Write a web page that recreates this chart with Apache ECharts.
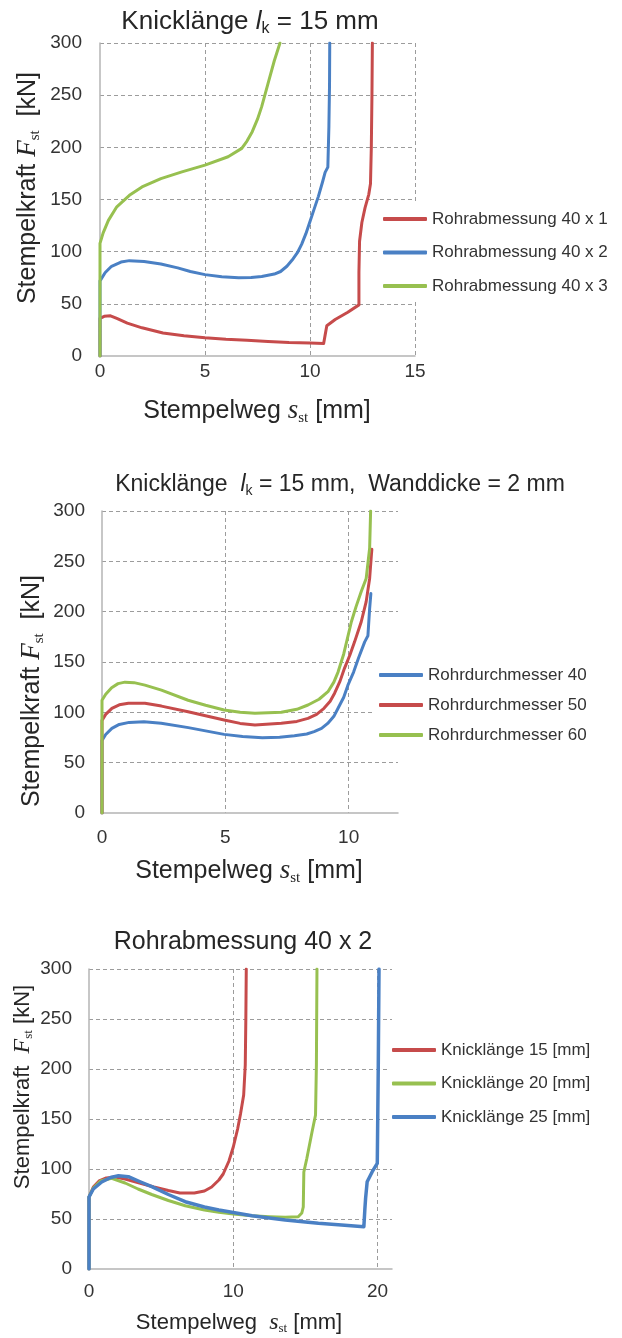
<!DOCTYPE html>
<html><head><meta charset="utf-8">
<script src="https://cdn.jsdelivr.net/npm/echarts@6/dist/echarts.min.js"></script>
<style>html,body{margin:0;padding:0;background:#fff}#c{width:622px;height:1338px}</style>
</head><body><div id="c"></div>
<script>
// ---------- data ----------
const yMin = 0, yMax = 300, yInterval = 50;
const xMax1 = 15, xMax2 = 12, xMax3 = 21;
const xInt1 = 5, xInt2 = 5, xInt3 = 10;

const names1 = ['Rohrabmessung 40 x 1', 'Rohrabmessung 40 x 2', 'Rohrabmessung 40 x 3'];
const names2 = ['Rohrdurchmesser 40', 'Rohrdurchmesser 50', 'Rohrdurchmesser 60'];
const names3 = ['Knicklänge 15 [mm]', 'Knicklänge 20 [mm]', 'Knicklänge 25 [mm]'];

// chart 1: Knicklänge 15 mm
const r40x1 = [[0,0],[0,36],[0.2,38],[0.5,38.5],[0.8,36],[1.3,31.5],[2,27],[3,22],[4,19.5],[5,17.5],[6,16],[7,15],[8,14],[9,13],[10,12.5],[10.65,12],[10.72,20],[10.8,29],[11.2,35],[11.8,42],[12.33,49],[12.33,80],[12.36,110],[12.47,128],[12.62,142],[12.8,155],[12.88,165],[12.92,200],[12.95,250],[12.97,300]];
const r40x2 = [[0,0],[0,72],[0.25,80],[0.55,86],[1,90],[1.4,91.4],[2.1,90.5],[2.9,88.2],[3.7,84.5],[4.3,81],[5,78],[5.8,76],[6.6,75],[7.2,75.3],[7.7,76.2],[8.3,78.5],[8.6,81],[8.9,86],[9.15,92],[9.4,99],[9.6,107],[9.8,117],[10,129],[10.2,141],[10.4,153],[10.6,167],[10.72,176],[10.85,181],[10.9,220],[10.93,260],[10.94,300]];
const r40x3 = [[0,0],[0,108],[0.15,118],[0.4,130],[0.8,143],[1.4,154],[2,162],[2.9,170],[3.9,176.5],[5,183],[6.1,191],[6.75,199],[7.0,206],[7.25,215],[7.5,227],[7.7,239],[8.0,261],[8.3,283],[8.57,300]];

// chart 2: Wanddicke 2 mm
const d40 = [[0,0],[0,72],[0.15,78],[0.4,84],[0.7,88],[1.1,90],[1.7,90.7],[2.4,89.1],[3.5,84.8],[4.95,78.1],[5.7,76],[6.5,74.8],[7.2,75.3],[7.8,76.8],[8.3,78.5],[8.6,80.8],[8.9,84],[9.15,89],[9.4,96],[9.57,104],[9.8,115],[9.97,127],[10.2,140],[10.4,154],[10.65,170],[10.78,176],[10.85,203],[10.9,218]];
const d50 = [[0,0],[0,92],[0.15,98],[0.4,104],[0.7,107.5],[1.07,109],[1.74,109],[2.41,106.2],[3.49,100.5],[4.95,92.4],[5.6,89],[6.2,87.4],[7.27,89.1],[7.9,91],[8.35,94],[8.7,98],[9.0,104],[9.25,111],[9.43,119],[9.65,131],[9.83,143.7],[10.05,157],[10.24,170],[10.51,190],[10.71,210],[10.85,233],[10.92,256],[10.94,262]];
const d60 = [[0,0],[0,112],[0.15,118],[0.39,124.5],[0.65,128.5],[0.93,130],[1.3,129.5],[1.74,127],[2.41,122],[3.49,112],[4.2,107],[4.95,102.3],[5.6,100],[6.2,99],[7.27,100],[7.9,103],[8.35,107.3],[8.8,113],[9.16,120.5],[9.4,130],[9.57,140],[9.8,158],[10.11,190],[10.3,205],[10.51,220],[10.71,233],[10.85,263],[10.89,300]];

// chart 3: Rohrabmessung 40 x 2
const k15 = [[0,0],[0,72],[0.3,82],[0.7,88],[1.2,91],[1.8,92],[2.5,90],[3.5,86],[4.5,82],[5.5,78.5],[6.3,76],[7.3,76],[8,78],[8.5,82],[9,89],[9.3,95],[9.7,108],[10,122],[10.3,140],[10.5,155],[10.72,174],[10.83,204],[10.87,250],[10.9,300]];
const k20 = [[0,0],[0,72],[0.3,81],[0.8,88],[1.57,90.7],[2.5,86],[3.4,80],[4.35,74.5],[5.5,68.5],[6.67,63.3],[8,59],[9,56.7],[10,55],[11.3,53.3],[12.5,52.3],[13.6,51.7],[14.5,52.3],[14.75,56],[14.85,62],[14.89,97],[15.1,110.7],[15.46,137.3],[15.7,154],[15.76,204],[15.8,300]];
const k25 = [[0,0],[0,72],[0.3,80],[0.88,87],[1.5,91.5],[2.04,93.3],[2.73,92.3],[3.5,87.5],[4.35,82.3],[5.5,74.5],[6.67,67.3],[8,62],[9,59],[10,56.5],[11.3,53.3],[12.5,51],[13.6,49],[15,47],[15.9,45.7],[17.5,44],[19.05,42.3],[19.12,60],[19.17,70.7],[19.28,87.3],[19.63,97.3],[19.98,105.7],[20.05,204],[20.1,300]];

// ---------- style ----------
const FONT = '"Liberation Sans", Arial, sans-serif';
const SERIF = '"Liberation Serif", "Times New Roman", serif';
const RED = '#c64b4b', BLUE = '#4a80c4', GREEN = '#97c050';
const TXT = '#262626';

function xAxis(idx, max, interval, showMax, margin) {
  return {
    type: 'value', gridIndex: idx, min: 0, max: max, interval: interval,
    axisLine: { show: true, onZero: false, lineStyle: { color: '#b4b4b4', width: 1.5 } },
    axisTick: { show: false },
    axisLabel: { color: '#333', fontSize: 19, fontFamily: FONT, margin: margin, showMaxLabel: showMax, showMinLabel: true },
    splitLine: { show: true, showMinLine: false, showMaxLine: showMax, lineStyle: { color: '#9c9c9c', type: [4, 3], width: 1 } }
  };
}
function yAxis(idx, margin) {
  return {
    type: 'value', gridIndex: idx, min: yMin, max: yMax, interval: yInterval,
    axisLine: { show: true, onZero: false, lineStyle: { color: '#b4b4b4', width: 1.5 } },
    axisTick: { show: false },
    axisLabel: { color: '#333', fontSize: 19, fontFamily: FONT, margin: margin },
    splitLine: { show: true, showMinLine: false, showMaxLine: true, lineStyle: { color: '#9c9c9c', type: [4, 3], width: 1 } }
  };
}
function line(name, idx, data, color, width) {
  return {
    name: name, type: 'line', xAxisIndex: idx, yAxisIndex: idx, data: data,
    symbol: 'none', showSymbol: false, smooth: false, animation: false,
    lineStyle: { color: color, width: width || 3, cap: 'round', join: 'round' },
    itemStyle: { color: color }
  };
}
function legend(names, left, top, gap) {
  return {
    data: names, orient: 'vertical', left: left, top: top, itemGap: gap,
    itemWidth: 44, itemHeight: 4, icon: 'roundRect',
    backgroundColor: '#fff', padding: [5, 4, 3, 4],
    textStyle: { color: '#333', fontSize: 17, fontFamily: FONT, lineHeight: 20 },
    selectedMode: false
  };
}
function txt(x, y, size, text, rotate) {
  const sub = Math.round(size * 0.6);
  const lh = Math.round(size * 1.15);
  return {
    type: 'text', x: x, y: y, rotation: rotate ? Math.PI / 2 : 0, silent: true,
    style: {
      text: text, fontSize: size, fontFamily: FONT, fill: TXT,
      align: 'center', verticalAlign: 'middle', lineHeight: lh,
      rich: {
        it: { fontSize: size, fontFamily: FONT, fontStyle: 'italic', fill: TXT, lineHeight: lh },
        ser: { fontSize: Math.round(size * 1.08), fontFamily: SERIF, fontStyle: 'italic', fill: TXT, lineHeight: lh },
        sub: { fontSize: sub, fontFamily: FONT, fill: TXT, verticalAlign: 'bottom', lineHeight: sub + 1 },
        ssub: { fontSize: sub, fontFamily: SERIF, fill: TXT, verticalAlign: 'bottom', lineHeight: sub + 1 }
      }
    }
  };
}

const option = {
  backgroundColor: '#fff',
  animation: false,
  grid: [
    { left: 100, top: 43, width: 315, height: 313, outerBoundsMode: 'none', containLabel: false },
    { left: 102, top: 511, width: 296, height: 302, outerBoundsMode: 'none', containLabel: false },
    { left: 89, top: 969, width: 303, height: 300, outerBoundsMode: 'none', containLabel: false }
  ],
  xAxis: [xAxis(0, xMax1, xInt1, true, 6), xAxis(1, xMax2, xInt2, false, 15), xAxis(2, xMax3, xInt3, false, 13)],
  yAxis: [yAxis(0, 18), yAxis(1, 17), yAxis(2, 17)],
  legend: [
    legend(names1, 379, 204, 13.5),
    legend(names2, 375, 660, 10),
    legend(names3, 388, 1035, 13.5)
  ],
  series: [
    line(names1[0], 0, r40x1, RED),
    line(names1[1], 0, r40x2, BLUE),
    line(names1[2], 0, r40x3, GREEN),
    line(names2[0], 1, d40, BLUE),
    line(names2[1], 1, d50, RED),
    line(names2[2], 1, d60, GREEN),
    line(names3[0], 2, k15, RED),
    line(names3[1], 2, k20, GREEN),
    line(names3[2], 2, k25, BLUE, 3.5)
  ],
  graphic: { elements: [
    txt(250, 22, 26, 'Knicklänge {it|l}{sub|k} = 15 mm'),
    txt(340, 485, 23, 'Knicklänge  {it|l}{sub|k} = 15 mm,  Wanddicke = 2 mm'),
    txt(243, 942, 25, 'Rohrabmessung 40 x 2'),
    txt(28, 188, 25, 'Stempelkraft {ser|F}{ssub|st}  [kN]', true),
    txt(32, 691, 25, 'Stempelkraft {ser|F}{ssub|st}  [kN]', true),
    txt(23, 1087, 22, 'Stempelkraft  {ser|F}{ssub|st} [kN]', true),
    txt(257, 411, 25, 'Stempelweg {ser|s}{ssub|st} [mm]'),
    txt(249, 871, 25, 'Stempelweg {ser|s}{ssub|st} [mm]'),
    txt(239, 1323, 22, 'Stempelweg  {ser|s}{ssub|st} [mm]')
  ]}
};
const chart = echarts.init(document.getElementById('c'), null, { renderer: 'canvas' });
chart.setOption(option);
</script>
</body></html>
